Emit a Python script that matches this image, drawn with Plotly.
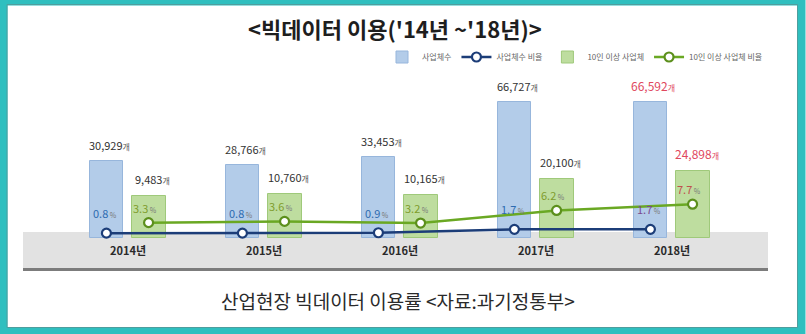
import plotly.graph_objects as go

# --- data -------------------------------------------------------------
years = ["2014년", "2015년", "2016년", "2017년", "2018년"]
firms = [30929, 28766, 33453, 66727, 66592]           # 사업체수
firm_rate = [0.8, 0.8, 0.9, 1.7, 1.7]                  # 사업체수 비율 (%)
firms10 = [9483, 10760, 10165, 20100, 24898]           # 10인 이상 사업체
firm10_rate = [3.3, 3.6, 3.2, 6.2, 7.7]                # 10인 이상 사업체 비율 (%)

# --- layout geometry (pixels) -----------------------------------------
W, H = 806, 334
L, R, T, B = 23, 768, 95, 268          # plot-area box
PW, PH = R - L, B - T


def px(x):
    return (x - L) / PW


def py(y):
    return (B - y) / PH


idx = list(range(len(years)))
OFF = 0.155
x_blue = [i - OFF for i in idx]
x_green = [i + OFF for i in idx]

BAR_FOOT = -16000  # bars rise out of the grey band

BLUE_BAR = "#b3cce9"
BLUE_EDGE = "#97b6dc"
GREEN_BAR = "#bedd9f"
GREEN_EDGE = "#9fc97a"
NAVY = "#1c3d78"
LIME = "#6aa823"
HILITE = "#e0485e"

fig = go.Figure()

fig.add_trace(go.Bar(
    name="사업체수", x=x_blue, y=[v - BAR_FOOT for v in firms], base=BAR_FOOT,
    width=0.245, marker=dict(color=BLUE_BAR, line=dict(color=BLUE_EDGE, width=1)),
    hoverinfo="skip",
))
fig.add_trace(go.Scatter(
    name="사업체수 비율", x=x_blue, y=firm_rate, yaxis="y2", mode="lines+markers",
    line=dict(color=NAVY, width=2.5),
    marker=dict(symbol="circle", size=9, color="white", line=dict(color=NAVY, width=2.2)),
))
fig.add_trace(go.Bar(
    name="10인 이상 사업체", x=x_green, y=[v - BAR_FOOT for v in firms10], base=BAR_FOOT,
    width=0.25, marker=dict(color=GREEN_BAR, line=dict(color=GREEN_EDGE, width=1)),
    hoverinfo="skip",
))
fig.add_trace(go.Scatter(
    name="10인 이상 사업체 비율", x=x_green, y=firm10_rate, yaxis="y2", mode="lines+markers",
    line=dict(color=LIME, width=2.5),
    marker=dict(symbol="circle", size=9, color="white", line=dict(color="#5c8f1c", width=2.2)),
))

ann = []
last = len(years) - 1

# value labels above the bars
for i in idx:
    col = HILITE if i == last else "#333333"
    unit_col = HILITE if i == last else "#555555"
    ann.append(dict(
        x=x_blue[i], y=firms[i], xref="x", yref="y", yanchor="bottom", yshift=6, xshift=3,
        text=f"{firms[i]:,}<span style='font-size:8px;color:{unit_col}'>개</span>",
        showarrow=False, font=dict(size=12 if i == last else 11, color=col),
    ))
    ann.append(dict(
        x=x_green[i], y=firms10[i], xref="x", yref="y", yanchor="bottom", yshift=7, xshift=4,
        text=f"{firms10[i]:,}<span style='font-size:8px;color:{unit_col}'>개</span>",
        showarrow=False, font=dict(size=12 if i == last else 11, color=col),
    ))

# percentage labels above the line markers
for i in idx:
    bcol = "#7a4a8e" if i == last else "#2e6bb0"
    gcol = "#c0504d" if i == last else "#7f9c2c"
    ann.append(dict(
        x=x_blue[i], y=firm_rate[i], xref="x", yref="y2", yanchor="middle", yshift=20, xshift=-1,
        text=f"{firm_rate[i]}<span style='font-size:7px;color:#777'> %</span>",
        showarrow=False, font=dict(size=11, color=bcol),
    ))
    ann.append(dict(
        x=x_green[i], y=firm10_rate[i], xref="x", yref="y2", yanchor="middle", yshift=15, xshift=-4,
        text=f"{firm10_rate[i]}<span style='font-size:7px;color:#777'> %</span>",
        showarrow=False, font=dict(size=11, color=gcol),
    ))

# year labels inside the grey band
for i in idx:
    ann.append(dict(
        x=i, y=py(250), xref="x", yref="paper", yanchor="middle", text=f"<b>{years[i]}</b>",
        showarrow=False, font=dict(size=11, color="#2a2a2a"),
    ))

# title and caption
ann.append(dict(
    x=px(395), y=py(28), xref="paper", yref="paper", xanchor="center", yanchor="middle",
    text="<b>&lt;빅데이터 이용('14년 ~'18년)&gt;</b>", showarrow=False,
    font=dict(size=22, color="#1e1e1e", family="Noto Sans CJK KR"),
))
ann.append(dict(
    x=px(398), y=py(300), xref="paper", yref="paper", xanchor="center", yanchor="middle",
    text="산업현장 빅데이터 이용률 &lt;자료:과기정통부&gt;", showarrow=False,
    font=dict(size=19, color="#2a2a2a", family="Noto Sans CJK KR"),
))

shapes = [
    # grey band behind the year labels
    dict(type="rect", xref="paper", yref="paper", x0=0, x1=1, y0=0, y1=py(232),
         fillcolor="#e2e2e2", line=dict(width=0), layer="below"),
    # teal frame
    dict(type="rect", xref="paper", yref="paper",
         x0=px(3.5), x1=px(801.5), y0=py(1.5), y1=py(331),
         line=dict(color="#2fbfbf", width=8), fillcolor="rgba(0,0,0,0)", layer="above"),
    dict(type="rect", xref="paper", yref="paper",
         x0=px(7), x1=px(797.5), y0=py(4.5), y1=py(327.5),
         line=dict(color="#4f9e9e", width=1), fillcolor="rgba(0,0,0,0)", layer="above"),
]

fig.update_layout(
    width=W, height=H,
    margin=dict(l=L, r=W - R, t=T, b=H - B, pad=0),
    paper_bgcolor="white", plot_bgcolor="rgba(0,0,0,0)",
    font=dict(family="Noto Sans CJK KR", color="#333"),
    barmode="overlay", bargap=0,
    showlegend=True,
    legend=dict(
        orientation="h", x=px(768), xanchor="right", y=py(57), yanchor="middle",
        font=dict(size=8, color="#666"), itemwidth=30, bgcolor="rgba(0,0,0,0)",
        tracegroupgap=0,
    ),
    xaxis=dict(range=[(L - 127.5) / 136, (R - 127.5) / 136], showgrid=False, zeroline=False,
               showticklabels=False, ticks="", showline=True, linecolor="#7c7c7c",
               linewidth=3, fixedrange=True),
    yaxis=dict(range=[-33940, 70900], visible=False, fixedrange=True),
    yaxis2=dict(range=[-7.5, 33.7], overlaying="y", visible=False, fixedrange=True),
    annotations=ann,
    shapes=shapes,
)

fig.write_html("out.html")
